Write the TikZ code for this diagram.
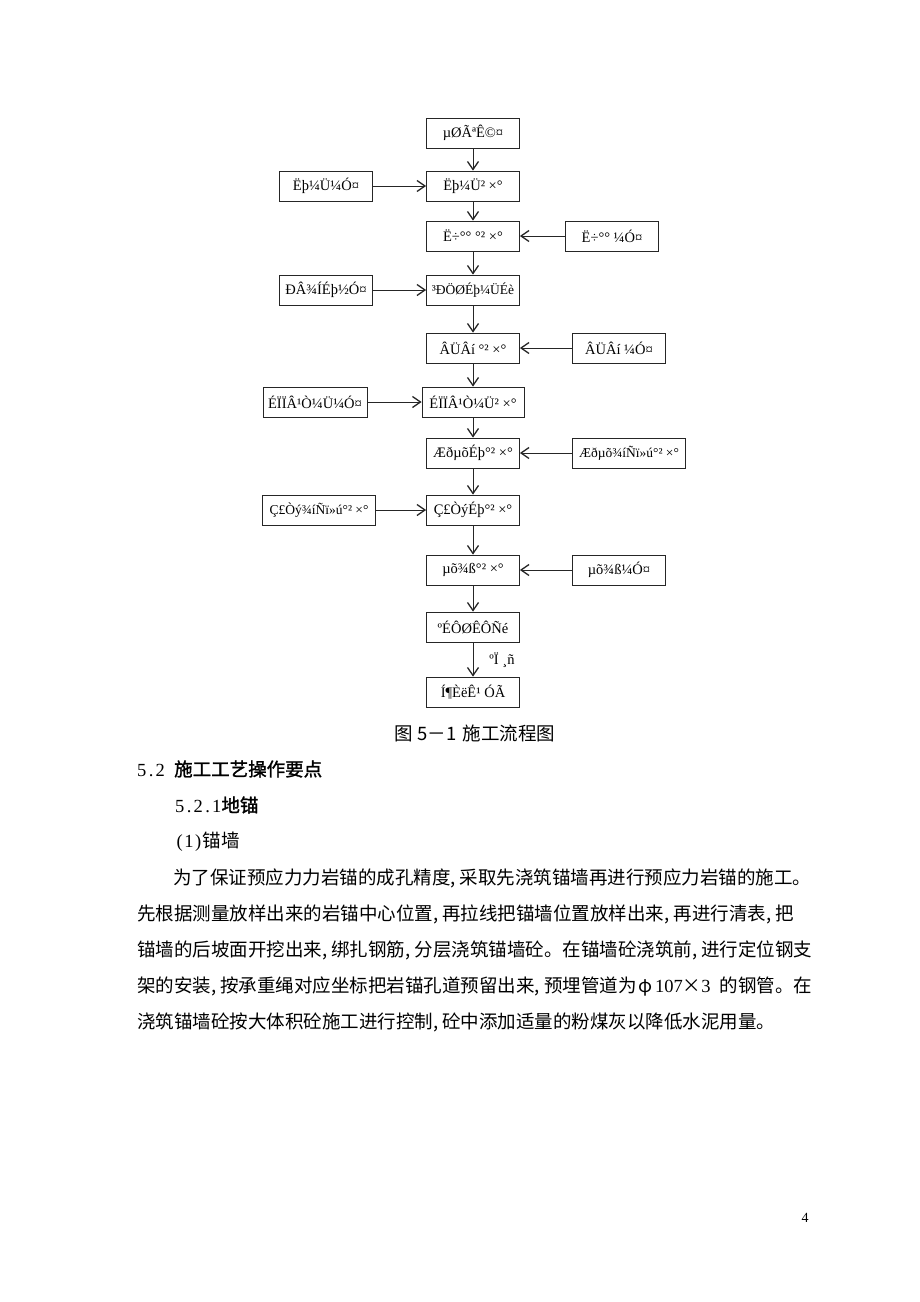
\documentclass[tikz,border=0pt]{standalone}
\usepackage{fontspec}
\setmainfont{Liberation Serif}
\newfontfamily\cjk{Noto Sans CJK SC}
\newfontfamily\cjkhd[FakeBold=1.5]{Noto Sans CJK SC}
\newfontfamily\latn{Liberation Serif}
\usetikzlibrary{arrows.meta}
\newcommand\cmma{\makebox[9.25pt][l]{,}}
\newcommand\hc[1]{\makebox[9.25pt]{\latn\fontsize{18.5}{18.5}\selectfont #1}}
\begin{document}
\begin{tikzpicture}[x=1pt,y=-1pt,
  box/.style={draw=black!85, line width=0.8pt, minimum height=30pt, inner sep=0pt,
    font=\fontsize{14.5}{14.5}\selectfont},
  tight/.style={font=\fontsize{13.5}{13.5}\selectfont},
  arr/.style={draw=black!85, line width=0.8pt,
    -{Straight Barb[length=8pt,width=11pt,line width=1.3pt]}},
  body/.style={anchor=base west, inner sep=0pt, font=\cjk\fontsize{18.5}{18.5}\selectfont},
  head/.style={anchor=base west, inner sep=0pt, font=\cjkhd\fontsize{18.5}{18.5}\selectfont},
  lbl/.style={inner sep=0pt, font=\fontsize{14.5}{14.5}\selectfont}]
\fill[white] (0,0) rectangle (920,1302);
\useasboundingbox (0,0) rectangle (920,1302);

% main column
\node[box, minimum width=93pt] (m1) at (473,133) {µØÃªÊ©¤};
\node[box, minimum width=93pt] (m2) at (473,186) {Ëþ¼Ü² ×°};
\node[box, minimum width=93pt] (m3) at (473,236) {Ë÷°° °² ×°};
\node[box, tight, minimum width=93pt] (m4) at (473,290) {³ÐÖØÉþ¼ÜÉè};
\node[box, minimum width=93pt] (m5) at (473,348) {ÂÜÂí °² ×°};
\node[box, minimum width=102pt] (m6) at (473,402) {ÉÏÏÂ¹Ò¼Ü² ×°};
\node[box, minimum width=93pt] (m7) at (473,453) {ÆðµõÉþ°² ×°};
\node[box, minimum width=93pt] (m8) at (473,510) {Ç£ÒýÉþ°² ×°};
\node[box, minimum width=93pt] (m9) at (473,570) {µõ¾ß°² ×°};
\node[box, minimum width=93pt] (m10) at (473,627) {ºÉÔØÊÔÑé};
\node[box, minimum width=93pt] (m11) at (473,692) {Í¶ÈëÊ¹ ÓÃ};

% side boxes
\node[box, minimum width=93pt] (l2) at (326,186) {Ëþ¼Ü¼Ó¤};
\node[box, minimum width=93pt] (r3) at (612,236) {Ë÷°° ¼Ó¤};
\node[box, minimum width=93pt] (l4) at (326,290) {ÐÂ¾ÍÉþ½Ó¤};
\node[box, minimum width=93pt] (r5) at (619,348) {ÂÜÂí ¼Ó¤};
\node[box, minimum width=104pt] (l6) at (315,402) {ÉÏÏÂ¹Ò¼Ü¼Ó¤};
\node[box, tight, minimum width=113pt] (r7) at (629,453) {Æðµõ¾íÑï»ú°² ×°};
\node[box, tight, minimum width=113pt] (l8) at (319,510) {Ç£Òý¾íÑï»ú°² ×°};
\node[box, minimum width=93pt] (r9) at (619,570) {µõ¾ß¼Ó¤};

% vertical connectors
\draw[arr] (m1.south) -- (m2.north);
\draw[arr] (m2.south) -- (m3.north);
\draw[arr] (m3.south) -- (m4.north);
\draw[arr] (m4.south) -- (m5.north);
\draw[arr] (m5.south) -- (m6.north);
\draw[arr] (m6.south) -- (m7.north);
\draw[arr] (m7.south) -- (m8.north);
\draw[arr] (m8.south) -- (m9.north);
\draw[arr] (m9.south) -- (m10.north);
\draw[arr] (m10.south) -- (m11.north);
\node[lbl] (ok) at (502,660) {ºÏ ¸ñ};

% horizontal connectors
\draw[arr] (l2.east) -- (m2.west);
\draw[arr] (r3.west) -- (m3.east);
\draw[arr] (l4.east) -- (m4.west);
\draw[arr] (r5.west) -- (m5.east);
\draw[arr] (l6.east) -- (m6.west);
\draw[arr] (r7.west) -- (m7.east);
\draw[arr] (l8.east) -- (m8.west);
\draw[arr] (r9.west) -- (m9.east);

% caption
\node[anchor=base, inner sep=0pt, font=\cjk\fontsize{18.5}{18.5}\selectfont] (cap) at (475,740) {图 5－1\hspace{6pt}施工流程图};

% text
\node[head] (h1) at (137,776) {\hc{5}\hc{.}\hc{2}\hc{ }施工工艺操作要点};
\node[head] (h2) at (175,812) {\hc{5}\hc{.}\hc{2}\hc{.}\hc{1}地锚};
\node[body] (h3) at (175,847) {\hc{(}\hc{1}\hc{)}锚墙};
\node[body] (p1) at (173,884) {为了保证预应力力岩锚的成孔精度\cmma 采取先浇筑锚墙再进行预应力岩锚的施工。};
\node[body] (p2) at (137,920) {先根据测量放样出来的岩锚中心位置\cmma 再拉线把锚墙位置放样出来\cmma 再进行清表\cmma 把};
\node[body] (p3) at (137,956) {锚墙的后坡面开挖出来\cmma 绑扎钢筋\cmma 分层浇筑锚墙砼。在锚墙砼浇筑前\cmma 进行定位钢支};
\node[body] (p4) at (137,992) {架的安装\cmma 按承重绳对应坐标把岩锚孔道预留出来\cmma 预埋管道为\makebox[18.5pt]{φ}\hc{1}\hc{0}\hc{7}\makebox[18.5pt]{×}\hc{3}\hc{ }的钢管。在};
\node[body] (p5) at (137,1028) {浇筑锚墙砼按大体积砼施工进行控制\cmma 砼中添加适量的粉煤灰以降低水泥用量。};

\node[anchor=base, inner sep=0pt, font=\fontsize{14}{14}\selectfont] (pg) at (805,1222) {4};
\end{tikzpicture}
\end{document}
